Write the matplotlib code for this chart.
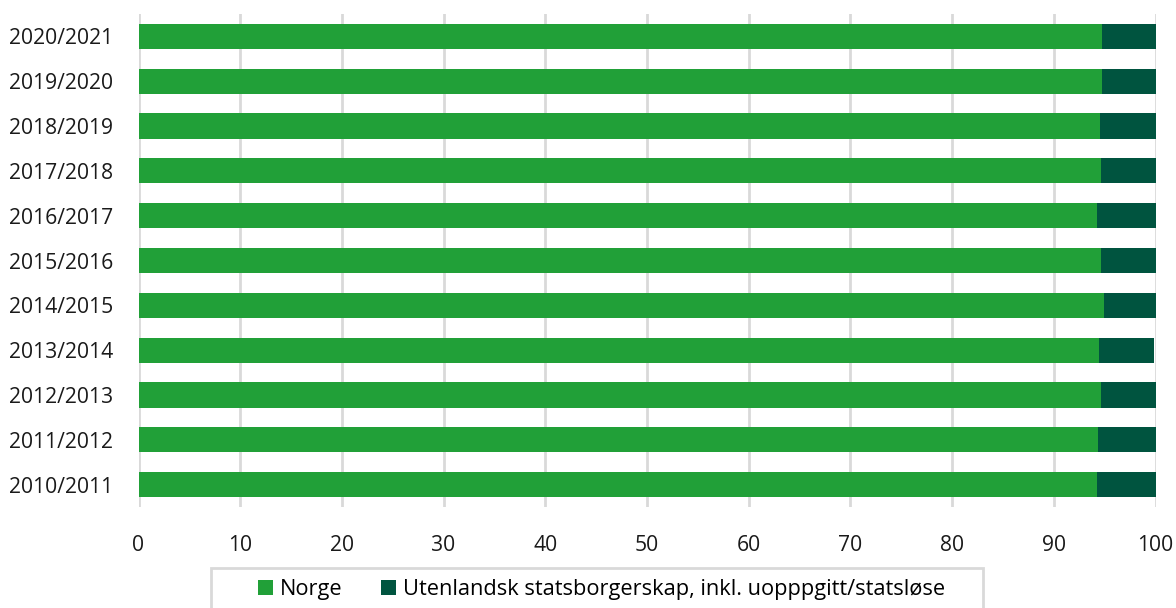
import matplotlib
matplotlib.use('Agg')
import matplotlib.pyplot as plt
from matplotlib.patches import Rectangle

plt.rcParams['font.family'] = ['Open Sans', 'DejaVu Sans']

years = ['2010/2011', '2011/2012', '2012/2013', '2013/2014', '2014/2015', '2015/2016',
         '2016/2017', '2017/2018', '2018/2019', '2019/2020', '2020/2021']
norge = [94.2, 94.3, 94.6, 94.4, 94.9, 94.6, 94.2, 94.6, 94.5, 94.7, 94.7]
utenlandsk = [5.8, 5.7, 5.4, 5.5, 5.1, 5.4, 5.8, 5.4, 5.5, 5.3, 5.3]
xticks = [0, 10, 20, 30, 40, 50, 60, 70, 80, 90, 100]

green = '#21a038'
dark = '#00543f'
grid = '#d9d9d9'

fig = plt.figure(figsize=(11.76, 6.08), dpi=100)
ax = fig.add_axes([138.5 / 1176, 1 - 507 / 608, 1017 / 1176, 493 / 608])

ypos = range(len(years))
ax.barh(ypos, norge, height=0.56, color=green, label='Norge', zorder=3)
ax.barh(ypos, utenlandsk, left=norge, height=0.56, color=dark,
        label='Utenlandsk statsborgerskap, inkl. uopppgitt/statsløse', zorder=3)

ax.set_xlim(0, 100)
ax.set_ylim(-0.5, 10.5)
ax.set_yticks(list(ypos))
ax.set_yticklabels(years, fontsize=15.2, color='#1a1a1a')
ax.set_xticks(xticks)
ax.set_xticklabels([str(t) for t in xticks], fontsize=15.2, color='#1a1a1a')
ax.tick_params(axis='both', length=0)
ax.tick_params(axis='x', pad=20)
ax.tick_params(axis='y', pad=18)
ax.grid(axis='x', color=grid, linewidth=2, zorder=0)
for s in ax.spines.values():
    s.set_visible(False)

# legend box
fig.patches.append(Rectangle((211 / 1176, -0.05), 772 / 1176, 0.05 + 40 / 608,
                             transform=fig.transFigure, fill=False,
                             edgecolor=grid, linewidth=2))
fig.legend(loc='center', bbox_to_anchor=(601.5 / 1176, 1 - 590 / 608), ncol=2,
           frameon=False, fontsize=15.7, handlelength=0.67, handleheight=0.67,
           handletextpad=0.3, columnspacing=1.8, borderpad=0)

fig.savefig('out.png', dpi=100)
